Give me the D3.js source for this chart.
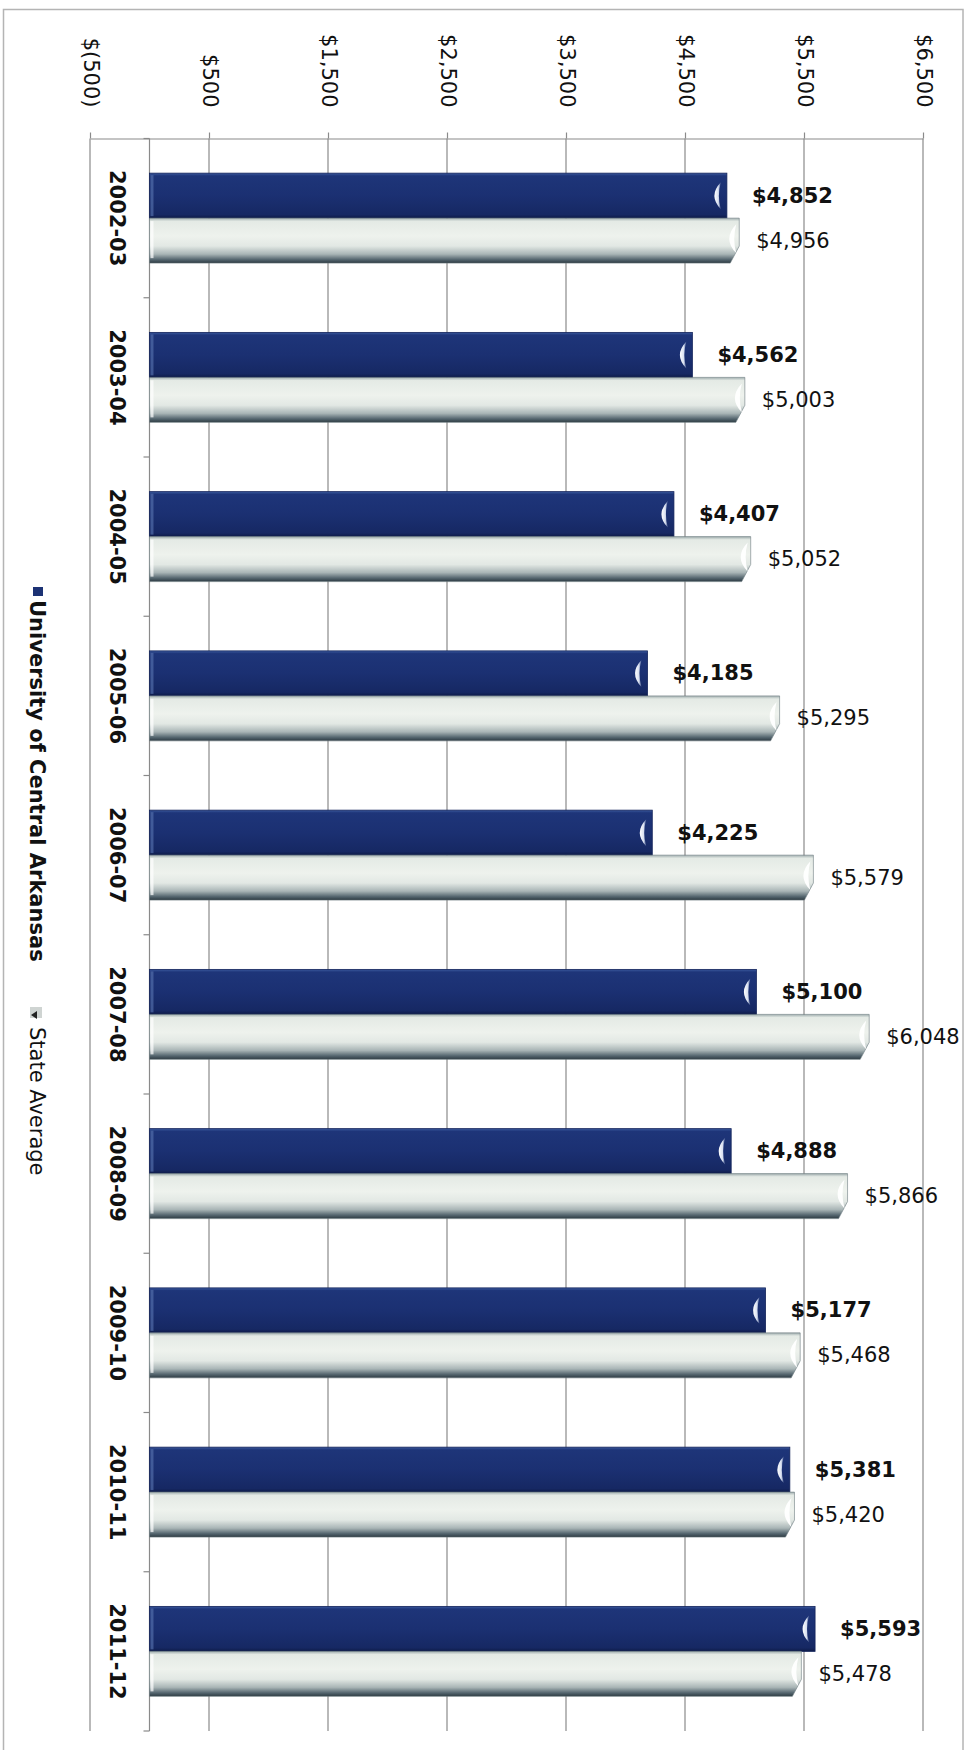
<!DOCTYPE html>
<html>
<head>
<meta charset="utf-8">
<script src="https://cdn.jsdelivr.net/npm/d3@7/dist/d3.min.js"></script>
<style>
  html, body { margin: 0; padding: 0; background: #ffffff; }
  svg { display: block; }
  text { font-family: "DejaVu Sans", Verdana, sans-serif; fill: #111; }
</style>
</head>
<body>
<svg id="chart" width="973" height="1750"></svg>
<script>
// ---------- data ----------
const categories = ["2002-03","2003-04","2004-05","2005-06","2006-07","2007-08","2008-09","2009-10","2010-11","2011-12"];
const ucaValues   = [4852, 4562, 4407, 4185, 4225, 5100, 4888, 5177, 5381, 5593];
const stateValues = [4956, 5003, 5052, 5295, 5579, 6048, 5866, 5468, 5420, 5478];
const seriesNames = ["University of Central Arkansas", "State Average"];
const tickValues  = [-500, 500, 1500, 2500, 3500, 4500, 5500, 6500];
const tickLabels  = ["$(500)", "$500", "$1,500", "$2,500", "$3,500", "$4,500", "$5,500", "$6,500"];

// ---------- setup ----------
const svg = d3.select("#chart");
const plotTop = 138.5, plotBottom = 1731;
const x = d3.scaleLinear().domain([-500, 6500]).range([90, 923]);
const y = d3.scaleBand().domain(categories).range([plotTop, plotBottom]).paddingInner(0.435).paddingOuter(0.2175);
const sub = d3.scaleBand().domain(seriesNames).range([0, y.bandwidth()]);
const fmt = d3.format(",");
const money = v => v < 0 ? "$(" + fmt(-v) + ")" : "$" + fmt(v);

// gradients
const defs = svg.append("defs");
const gU = defs.append("linearGradient").attr("id", "gU").attr("x1", 0).attr("y1", 0).attr("x2", 0).attr("y2", 1);
[[0,"#3b5a9e"],[0.06,"#1e3579"],[0.5,"#1b3072"],[0.92,"#162863"],[1,"#0e1b48"]]
  .forEach(s => gU.append("stop").attr("offset", s[0]).attr("stop-color", s[1]));
const gS = defs.append("linearGradient").attr("id", "gS").attr("x1", 0).attr("y1", 0).attr("x2", 0).attr("y2", 1);
[[0,"#9fadae"],[0.07,"#e4eae5"],[0.4,"#eef2ed"],[0.62,"#e2e8e4"],[0.8,"#a9b5b6"],[0.92,"#566770"],[1,"#2c3a42"]]
  .forEach(s => gS.append("stop").attr("offset", s[0]).attr("stop-color", s[1]));
const gC = defs.append("linearGradient").attr("id", "gC").attr("x1", 0).attr("y1", 0).attr("x2", 1).attr("y2", 0);
[[0,"#ffffff",1],[0.6,"#eef4ff",0.9],[1,"#c8d6f0",0.2]]
  .forEach(s => gC.append("stop").attr("offset", s[0]).attr("stop-color", s[1]).attr("stop-opacity", s[2]));

// outer frame
svg.append("rect").attr("x", 3.5).attr("y", 9.5).attr("width", 959.5).attr("height", 1760)
  .attr("fill", "none").attr("stroke", "#b4b4b4").attr("stroke-width", 1.5);

// gridlines
svg.append("g").selectAll("line").data(tickValues).join("line")
  .attr("x1", d => x(d)).attr("x2", d => x(d))
  .attr("y1", plotTop).attr("y2", plotBottom)
  .attr("stroke", "#8a8a8a").attr("stroke-width", 1.2);

// top value axis
const ax = svg.append("g").attr("transform", `translate(0,${plotTop})`)
  .call(d3.axisTop(x).tickValues(tickValues).tickFormat((d, i) => tickLabels[i]).tickSize(6).tickSizeOuter(0));
ax.select(".domain").attr("stroke", "#8a8a8a").attr("stroke-width", 1.2);
ax.selectAll(".tick line").attr("stroke", "#8a8a8a").attr("stroke-width", 1.2);
ax.selectAll(".tick text")
  .attr("x", 0).attr("y", 0).attr("dy", null)
  .attr("transform", "translate(0,-31) rotate(90)")
  .attr("text-anchor", "end").attr("dominant-baseline", "central")
  .style("font-family", '"DejaVu Sans", Verdana, sans-serif')
  .style("font-size", "21px").style("fill", "#111");

// category axis at value 0
const x0 = x(0);
const step = y.step();
const boundaries = d3.range(categories.length + 1).map(i => plotTop + i * step);
const cat = svg.append("g");
cat.append("line").attr("x1", x0).attr("x2", x0).attr("y1", plotTop).attr("y2", plotBottom)
  .attr("stroke", "#8a8a8a").attr("stroke-width", 1.2);
cat.selectAll("line.tk").data(boundaries).join("line").attr("class", "tk")
  .attr("x1", x0 - 6).attr("x2", x0).attr("y1", d => d).attr("y2", d => d)
  .attr("stroke", "#8a8a8a").attr("stroke-width", 1.2);
cat.selectAll("text").data(categories).join("text")
  .attr("transform", d => `translate(117,${y(d) + y.bandwidth() / 2}) rotate(90)`)
  .attr("text-anchor", "middle").attr("dominant-baseline", "central")
  .style("font-size", "21px").style("font-weight", "bold")
  .text(d => d);

// bars
const groups = svg.append("g").selectAll("g").data(categories).join("g")
  .attr("transform", d => `translate(0,${y(d)})`);

groups.each(function(c, i) {
  const g = d3.select(this);
  const h = sub.bandwidth();
  // University of Central Arkansas
  const yu = sub(seriesNames[0]);
  const xe = x(ucaValues[i]);
  g.append("rect").attr("x", x0).attr("y", yu).attr("width", xe - x0).attr("height", h)
    .attr("fill", "url(#gU)").attr("stroke", "#13235a").attr("stroke-width", 0.8);
  g.append("rect").attr("x", x0 + 1).attr("y", yu + 2).attr("width", 3).attr("height", h - 4)
    .attr("fill", "#5a76b3").attr("opacity", 0.6);
  const ym = yu + h / 2;
  g.append("path")
    .attr("d", `M${xe - 6},${yu + 9} Q${xe - 19},${ym} ${xe - 6},${yu + h - 9} Q${xe - 10},${ym} ${xe - 6},${yu + 9} Z`)
    .attr("fill", "url(#gC)");
  g.append("text").attr("x", xe + 25).attr("y", ym)
    .attr("dominant-baseline", "central")
    .style("font-size", "21px").style("font-weight", "bold")
    .text(money(ucaValues[i]));

  // State Average
  const ys = sub(seriesNames[1]);
  const xs = x(stateValues[i]);
  g.append("path")
    .attr("d", `M${x0},${ys} L${xs},${ys} L${xs},${ys + h * 0.62} L${xs - 9},${ys + h} L${x0},${ys + h} Z`)
    .attr("fill", "url(#gS)").attr("stroke", "#6c7a80").attr("stroke-width", 0.6);
  g.append("rect").attr("x", x0 + 1).attr("y", ys + 3).attr("width", 3).attr("height", h - 8)
    .attr("fill", "#ffffff").attr("opacity", 0.7);
  const ysm = ys + h / 2;
  g.append("path")
    .attr("d", `M${xs - 3},${ys + 6} Q${xs - 17},${ysm - 2} ${xs - 3},${ys + h - 10} Q${xs - 7},${ysm - 2} ${xs - 3},${ys + 6} Z`)
    .attr("fill", "#ffffff").attr("opacity", 0.95);
  g.append("text").attr("x", xs + 17).attr("y", ysm)
    .attr("dominant-baseline", "central")
    .style("font-size", "21px")
    .text(money(stateValues[i]));
});

// legend (rotated)
const lg = svg.append("g");
lg.append("rect").attr("x", 33).attr("y", 587).attr("width", 10).attr("height", 9).attr("fill", "#1c3274");
lg.append("text").attr("transform", "translate(30,600) rotate(90)")
  .style("font-size", "21px").style("font-weight", "bold")
  .text(seriesNames[0]);
lg.append("rect").attr("x", 30).attr("y", 1007).attr("width", 12).attr("height", 11).attr("fill", "#cfd4d2");
lg.append("path").attr("d", "M31,1015 L37,1011 L37,1019 Z").attr("fill", "#222");
lg.append("text").attr("transform", "translate(30,1027) rotate(90)")
  .style("font-size", "21px")
  .text(seriesNames[1]);
</script>
</body>
</html>
